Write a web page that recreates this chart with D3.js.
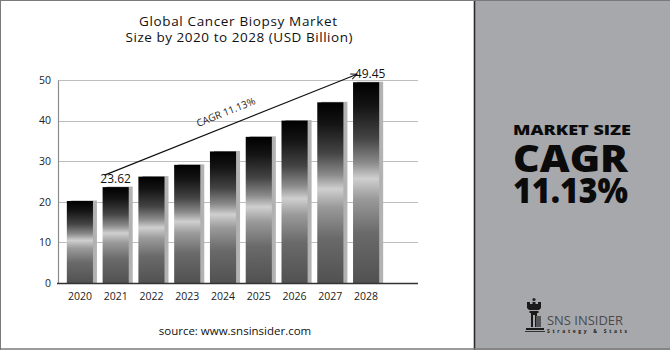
<!DOCTYPE html>
<html>
<head>
<meta charset="utf-8">
<script src="https://cdn.jsdelivr.net/npm/d3@7"></script>
<style>
  html, body { margin: 0; padding: 0; background: #fff; }
  svg { display: block; }
</style>
</head>
<body>
<svg id="chart" width="670" height="350"></svg>
<script>
// Market size by year, USD billion
const years = ["2020", "2021", "2022", "2023", "2024", "2025", "2026", "2027", "2028"];
const marketSize = [20.2, 23.62, 26.2, 29.1, 32.4, 36.0, 40.0, 44.5, 49.45];
const yTicks = [0, 10, 20, 30, 40, 50];
const labelledYears = ["2021", "2028"];
const cagrText = "CAGR 11.13%";

const svg = d3.select("#chart");
const W = 670, H = 350;
const font = "'Open Sans', 'Noto Sans', sans-serif";

// Right-hand summary panel
svg.append("rect").attr("x", 475).attr("y", 0).attr("width", W - 475).attr("height", H).attr("fill", "#a7a8ac");
svg.append("line").attr("x1", 474.5).attr("x2", 474.5).attr("y1", 0).attr("y2", H)
  .attr("stroke", "#2b2b2b").attr("stroke-width", 1.6);
// Outer frame
svg.append("line").attr("x1", 0).attr("x2", W).attr("y1", 0.5).attr("y2", 0.5).attr("stroke", "#7a7a7a");
svg.append("line").attr("x1", 0.5).attr("x2", 0.5).attr("y1", 0).attr("y2", H).attr("stroke", "#7a7a7a");
svg.append("line").attr("x1", 0).attr("x2", W).attr("y1", H - 1).attr("y2", H - 1).attr("stroke", "#7a7a7a").attr("stroke-width", 1.5);

// Scales
const x = d3.scaleBand().domain(years).range([62, 384]).paddingInner(0.27).paddingOuter(0.135);
const y = d3.scaleLinear().domain([0, 50]).range([283, 80]);
const gridRight = 418;

// Bar gradient: black top, bright band near the middle, grey base
const defs = svg.append("defs");
const grad = defs.append("linearGradient").attr("id", "barGrad")
  .attr("x1", 0).attr("y1", 0).attr("x2", 0).attr("y2", 1);
[[0, "#000"], [0.12, "#141414"], [0.28, "#444"], [0.4, "#8a8a8a"], [0.48, "#cfcfcf"],
 [0.58, "#9a9a9a"], [0.75, "#6a6a6a"], [1, "#515151"]]
  .forEach(([o, c]) => grad.append("stop").attr("offset", o).attr("stop-color", c));
const shGrad = defs.append("linearGradient").attr("id", "shadowGrad")
  .attr("x1", 0).attr("y1", 0).attr("x2", 1).attr("y2", 0);
shGrad.append("stop").attr("offset", 0).attr("stop-color", "#9c9c9c");
shGrad.append("stop").attr("offset", 1).attr("stop-color", "#b4b4b4");
const arrowMarker = defs.append("marker").attr("id", "arrowHead")
  .attr("viewBox", "0 0 10 10").attr("refX", 9).attr("refY", 5)
  .attr("markerWidth", 7).attr("markerHeight", 7).attr("orient", "auto")
  .attr("markerUnits", "userSpaceOnUse");
arrowMarker.append("path").attr("d", "M0,1 L9,5 L0,9").attr("fill", "none").attr("stroke", "#111").attr("stroke-width", 1.3);

// Gridlines
svg.append("g")
  .selectAll("line").data(yTicks.filter(d => d > 0)).join("line")
  .attr("x1", 58).attr("x2", gridRight)
  .attr("y1", d => Math.round(y(d)) + 0.5).attr("y2", d => Math.round(y(d)) + 0.5)
  .attr("stroke", "#bdbdbd").attr("stroke-width", 1);

// Y axis
const yAxis = svg.append("g").attr("transform", "translate(58,0)")
  .call(d3.axisLeft(y).tickValues(yTicks).tickSize(0).tickPadding(7));
yAxis.select(".domain").attr("stroke", "#8c8c8c").attr("stroke-width", 1.2);
yAxis.selectAll("text").attr("font-family", font).attr("font-size", 10.5).attr("fill", "#222");

// Bars with offset shadow
const bars = svg.append("g");
bars.selectAll("rect.shadow").data(marketSize).join("rect").attr("class", "shadow")
  .attr("x", (d, i) => x(years[i]) + 4).attr("y", d => y(d) - 0.5)
  .attr("width", x.bandwidth()).attr("height", d => y(0) - y(d) + 0.5)
  .attr("fill", "url(#shadowGrad)");
bars.selectAll("rect.bar").data(marketSize).join("rect").attr("class", "bar")
  .attr("x", (d, i) => x(years[i])).attr("y", d => y(d))
  .attr("width", x.bandwidth()).attr("height", d => y(0) - y(d))
  .attr("fill", "url(#barGrad)");

// X axis
const xAxis = svg.append("g").attr("transform", "translate(0,283)")
  .call(d3.axisBottom(x).tickSize(0).tickPadding(10));
xAxis.select(".domain").remove();
svg.append("line").attr("x1", 57).attr("x2", gridRight).attr("y1", 283.5).attr("y2", 283.5)
  .attr("stroke", "#333").attr("stroke-width", 1.6);
xAxis.selectAll("text").attr("font-family", font).attr("font-size", 10.5).attr("fill", "#222");

// Value labels
svg.append("g").selectAll("text").data(labelledYears).join("text")
  .attr("x", d => x(d) + x.bandwidth() / 2 + (d === "2028" ? 4 : 0))
  .attr("y", d => y(marketSize[years.indexOf(d)]) - 4)
  .attr("text-anchor", "middle")
  .attr("font-family", font).attr("font-size", 12).attr("fill", "#111")
  .text(d => marketSize[years.indexOf(d)].toFixed(2));

// CAGR arrow from the 2021 label to the 2028 label
const ax1 = x("2021") + 2, ay1 = y(marketSize[1]) - 12;
const ax2 = x("2028") + 4, ay2 = y(marketSize[8]) - 8;
svg.append("line").attr("x1", ax1).attr("y1", ay1).attr("x2", ax2).attr("y2", ay2)
  .attr("stroke", "#111").attr("stroke-width", 1.2).attr("marker-end", "url(#arrowHead)");
const ang = Math.atan2(ay2 - ay1, ax2 - ax1) * 180 / Math.PI;
const mx = ax1 + (ax2 - ax1) * 0.5, my = ay1 + (ay2 - ay1) * 0.5;
svg.append("text")
  .attr("transform", `translate(${mx},${my}) rotate(${ang}) translate(0,-10)`)
  .attr("text-anchor", "middle").attr("font-family", font).attr("font-size", 10).attr("fill", "#222")
  .text(cagrText);

// Title
const title = svg.append("text").attr("text-anchor", "middle").attr("font-family", font)
  .attr("font-size", 13.5).attr("fill", "#111");
title.append("tspan").attr("x", 238).attr("y", 26).attr("textLength", 198).attr("lengthAdjust", "spacing")
  .text("Global Cancer Biopsy Market");
title.append("tspan").attr("x", 239).attr("y", 42).attr("textLength", 227).attr("lengthAdjust", "spacing")
  .text("Size by 2020 to 2028 (USD Billion)");

// Source
svg.append("text").attr("x", 235).attr("y", 335).attr("text-anchor", "middle")
  .attr("font-family", font).attr("font-size", 11.5).attr("fill", "#111")
  .text("source: www.snsinsider.com");

// Summary panel text
const boldFont = "'Open Sans', 'Lato', sans-serif";
svg.append("text").attr("x", 513).attr("y", 135).attr("textLength", 118).attr("lengthAdjust", "spacingAndGlyphs")
  .attr("font-family", boldFont).attr("font-weight", 800).attr("font-size", 14).attr("fill", "#0b0b0b")
  .text("MARKET SIZE");
svg.append("text").attr("x", 513).attr("y", 172).attr("textLength", 115).attr("lengthAdjust", "spacingAndGlyphs")
  .attr("font-family", boldFont).attr("font-weight", 800).attr("font-size", 37).attr("fill", "#0b0b0b")
  .text("CAGR");
svg.append("text").attr("x", 513).attr("y", 203).attr("textLength", 115).attr("lengthAdjust", "spacingAndGlyphs")
  .attr("font-family", boldFont).attr("font-weight", 800).attr("font-size", 36).attr("fill", "#0b0b0b")
  .text("11.13%");

// Logo: rook icon with wordmark
const logo = svg.append("g").attr("transform", "translate(525,298)");
logo.append("circle").attr("cx", 9).attr("cy", 1.5).attr("r", 1.6).attr("fill", "#222");
logo.append("path").attr("fill", "#1a1a1a")
  .attr("d", "M2,4 L5,4 L5,6 L7.5,6 L7.5,4 L10.5,4 L10.5,6 L13,6 L13,4 L16,4 L16,10 L14,12 L4,12 L2,10 Z");
logo.append("path").attr("fill", "#1a1a1a")
  .attr("d", "M4.5,13 L13.5,13 L13.5,15 L12,15 L12,29 L10,29 L10,17 L8,17 L8,29 L6,29 L6,15 L4.5,15 Z");
logo.append("rect").attr("x", 11).attr("y", 18).attr("width", 5).attr("height", 11).attr("fill", "#555");
logo.append("rect").attr("x", 1).attr("y", 30).attr("width", 18).attr("height", 2).attr("fill", "#1a1a1a");
logo.append("rect").attr("x", 0).attr("y", 33).attr("width", 20).attr("height", 1).attr("fill", "#333");
svg.append("text").attr("x", 547).attr("y", 325).attr("textLength", 76).attr("lengthAdjust", "spacingAndGlyphs")
  .attr("font-family", font).attr("font-size", 13).attr("fill", "#4a4a4a").text("SNS INSIDER");
svg.append("text").attr("x", 547).attr("y", 333).attr("textLength", 80).attr("lengthAdjust", "spacing")
  .attr("font-family", font).attr("font-weight", 700).attr("font-size", 5).attr("fill", "#222").text("Strategy & Stats");
</script>
</body>
</html>
